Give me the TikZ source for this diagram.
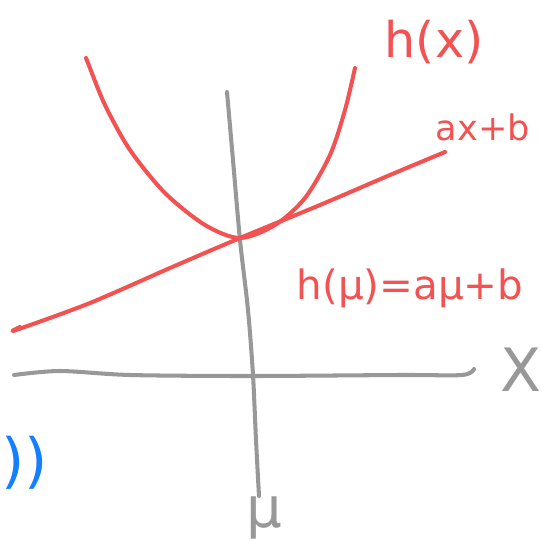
\documentclass[tikz,border=0pt]{standalone}
\usepackage{fontspec}
\setmainfont{DejaVu Sans}
\usetikzlibrary{calc}
\definecolor{traco}{RGB}{242,82,82}
\definecolor{eixo}{RGB}{152,152,152}
\definecolor{azul}{RGB}{20,128,255}

\begin{document}
\begin{tikzpicture}[x=0.02cm, y=-0.02cm, line cap=round, line join=round,
  curva/.style={traco, line width=2.3pt},
  eixos/.style={eixo, line width=2.3pt},
  rotulo/.style={inner sep=0pt, font=\fontsize{28}{28}\selectfont}]
  \useasboundingbox (0,0) rectangle (542,542);
  \clip (0,0) rectangle (542,542);

  % eixos
  \draw[eixos] plot[smooth] coordinates {(14,375) (60,371) (130,375) (250,376) (400,375) (462,375) (474,369)};
  \draw[eixos] plot[smooth] coordinates {(227,92) (233,160) (240,240) (248,310) (253,375) (256,440) (259,496)};

  % h(x) convexa
  \coordinate (M) at (240,238);
  \draw[curva] plot[smooth] coordinates {(86,58) (88,63) (105,105) (130,150) (165,193) (205,225) (M) (275,225) (305,198) (330,155) (345,110) (355,68)};

  % reta tangente
  \draw[curva] plot[smooth] coordinates {(20,327) (16,330) (90,303) (170,268) (M) (320,205) (390,175) (445,152)};

  % rotulos
  \node[rotulo, traco] (hx) at (434,42) {h(x)};
  \node[rotulo, traco, font=\fontsize{20}{20}\selectfont] (axb) at (483,127) {ax+b};
  \node[rotulo, traco, font=\fontsize{23}{23}\selectfont] (hmu) at (410,288) {h(μ)=aμ+b};
  \node[rotulo, eixo, font=\fontsize{34}{34}\selectfont] (X) at (521,370) {X};
  \node[rotulo, eixo, font=\fontsize{32}{32}\selectfont, anchor=base] (mu) at (264,527) {μ};
  \node[rotulo, azul, font=\fontsize{34}{34}\selectfont, anchor=west] (par) at (1,463) {))};
\end{tikzpicture}
\end{document}
